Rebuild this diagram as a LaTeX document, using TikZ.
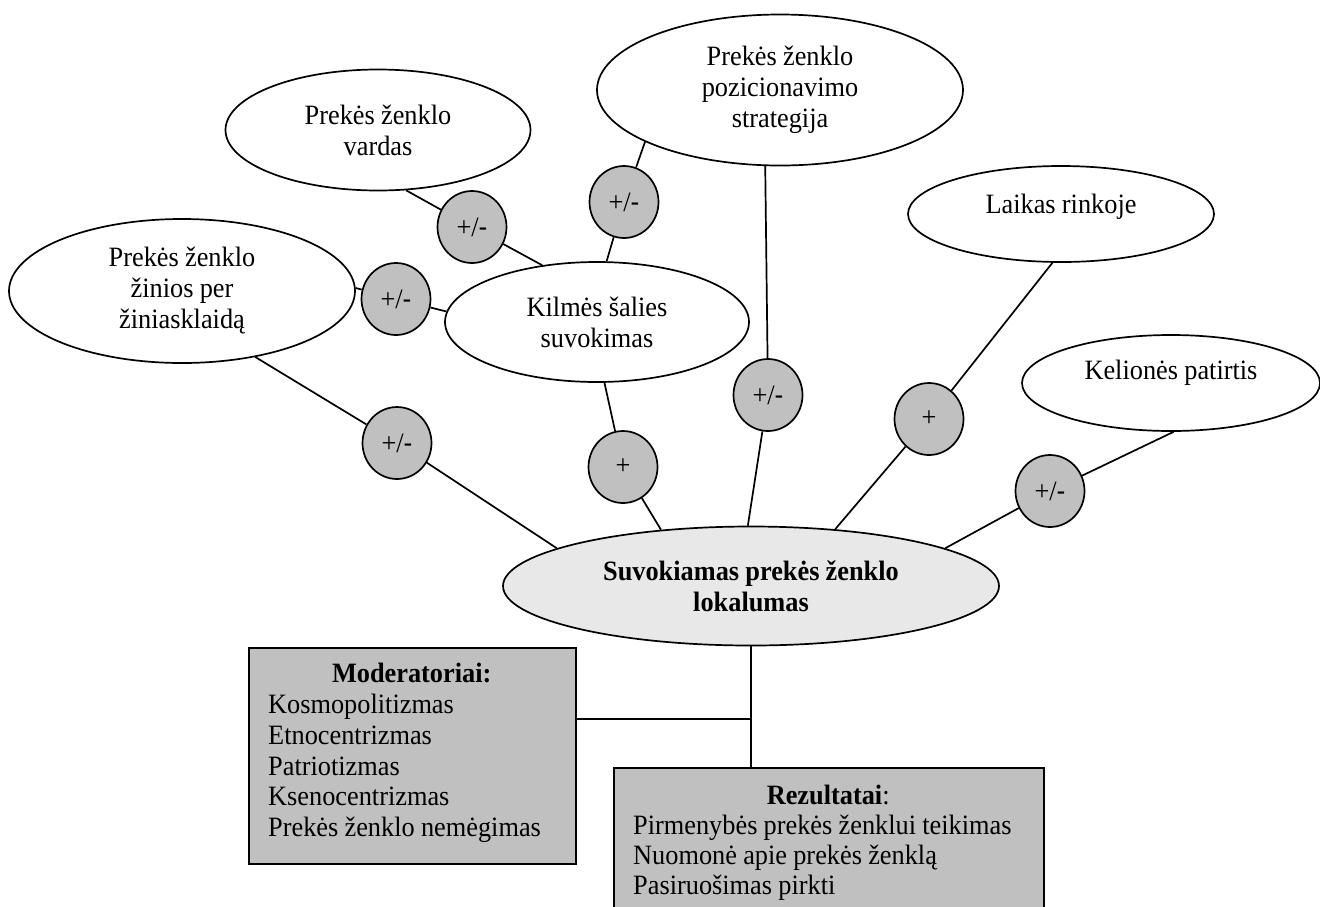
\documentclass[tikz,border=0pt]{standalone}
\usepackage{fontspec}
\setmainfont{Liberation Serif}[FakeStretch=0.94,WordSpace=0.95]
\newfontfamily\hyphfont{Liberation Sans}[FakeStretch=0.94]
\usetikzlibrary{shapes.geometric,calc}
\definecolor{signgray}{RGB}{192,192,192}
\definecolor{maingray}{RGB}{232,232,232}
\begin{document}
\begin{tikzpicture}[x=1pt,y=-1pt,
  every node/.style={font=\fontsize{28}{31}\selectfont},
  oval/.style={ellipse, draw, line width=1.7pt, fill=white, inner sep=0pt, align=center},
  sign/.style={ellipse, draw, line width=1.7pt, fill=signgray, inner sep=0pt, minimum width=69pt, minimum height=72pt},
  link/.style={line width=1.7pt},
  box/.style={rectangle, draw, line width=1.7pt, fill=signgray, inner sep=0pt},
  boxtext/.style={anchor=north west, inner sep=0pt, align=flush left, font=\fontsize{28}{30.8}\selectfont}]
\useasboundingbox (0,0) rectangle (1320,906);

% factor ellipses
\node[oval, minimum width=305pt, minimum height=121pt] (vardas) at (378,130) {Prekės ženklo\\vardas};
\node[oval, minimum width=346pt, minimum height=144pt] (zinios) at (182,291) {Prekės ženklo\\žinios per\\žiniasklaidą};
\node[oval, minimum width=304pt, minimum height=120pt] (kilmes) at (597,322) {Kilmės šalies\\suvokimas};
\node[oval, minimum width=366pt, minimum height=151pt] (posit) at (780,90) {Prekės ženklo\\pozicionavimo\\strategija};
\node[oval, minimum width=306pt, minimum height=96pt, text depth=20pt] (laikas) at (1061,214) {Laikas rinkoje};
\node[oval, minimum width=298pt, minimum height=96pt, text depth=26pt] (kelione) at (1171,383) {Kelionės patirtis};
\node[oval, fill=maingray, minimum width=496pt, minimum height=119pt, font=\fontsize{28}{31}\selectfont\bfseries] (main) at (751,586) {Suvokiamas prekės ženklo\\lokalumas};

% sign circles
\node[sign] (s1) at (472,227) {+/{\hyphfont -}};
\node[sign] (s2) at (396,299) {+/{\hyphfont -}};
\node[sign] (s3) at (624,202) {+/{\hyphfont -}};
\node[sign] (s4) at (397,443) {+/{\hyphfont -}};
\node[sign] (s5) at (623,467) {+};
\node[sign] (s6) at (768,395) {+/{\hyphfont -}};
\node[sign] (s7) at (929,419) {+};
\node[sign] (s8) at (1050,491) {+/{\hyphfont -}};

% connectors
\draw[link] (vardas.-65) -- (s1) -- (kilmes.134);
\draw[link] (zinios.1) -- (s2) -- (kilmes.176);
\draw[link] (posit.201) -- (s3) -- (kilmes.81);
\draw[link] (zinios.-42) -- (s4) -- (main.169);
\draw[link] (kilmes.-83) -- (s5) -- (main.148);
\draw[link] (posit.-101) -- (s6) -- (main.93);
\draw[link] (laikas.-100) -- (s7) -- (main.34);
\draw[link] (kelione.-87) -- (s8) -- (main.11);

% bottom boxes
\node[box, anchor=north west, minimum width=327pt, minimum height=216pt] (moder) at (248,647) {};
\node[boxtext, text width=300pt] (modertext) at ($(moder.north west)+(20,16)$)
  {\makebox[287pt]{\textbf{Moderatoriai:}}\\Kosmopolitizmas\\Etnocentrizmas\\Patriotizmas\\Ksenocentrizmas\\Prekės ženklo nemėgimas};
\node[box, anchor=north west, minimum width=430pt, minimum height=200pt] (rez) at (613,767) {};
\node[boxtext, text width=410pt, font=\fontsize{28}{30}\selectfont] (reztext) at ($(rez.north west)+(20,18)$)
  {\makebox[390pt]{\textbf{Rezultatai}:}\\Pirmenybės prekės ženklui teikimas\\Nuomonė apie prekės ženklą\\Pasiruošimas pirkti};

\coordinate (j) at (751,719);
\draw[link] (main.south) -- (main.south |- rez.north);
\draw[link] (moder.east |- j) -- (j);
\end{tikzpicture}
\end{document}
